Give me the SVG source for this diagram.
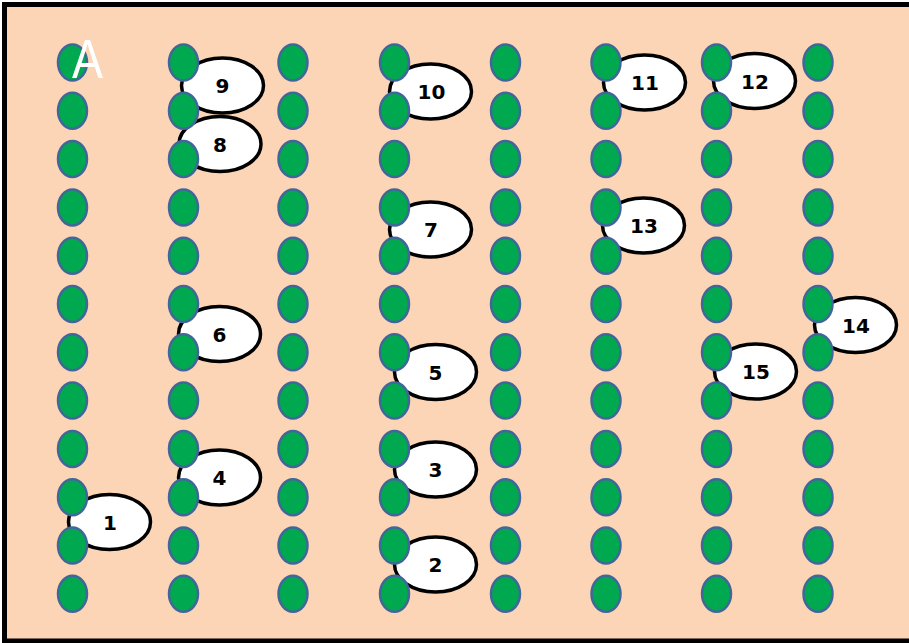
<svg xmlns="http://www.w3.org/2000/svg" width="909" height="643" viewBox="0 0 909 643">
<style>
.dot{fill:#00A850;stroke:#41679A;stroke-width:2.5}
.lab{fill:#FFFFFF;stroke:#000000;stroke-width:3.5}
.num{font-family:"DejaVu Sans",Verdana,sans-serif;font-weight:bold;font-size:20px;fill:#000000;text-anchor:middle}
</style>
<defs>
<ellipse id="d" cx="0" cy="0" rx="14.5" ry="18" class="dot"/>
</defs>
<rect x="0" y="0" width="909" height="643" fill="#FFFFFF"/>
<rect x="4.5" y="4.5" width="912" height="636.5" fill="#FBD5B5" stroke="#000000" stroke-width="5"/>
<g id="labels">
<g id="n9"><ellipse class="lab" cx="222.5" cy="85.5" rx="41" ry="27.5"/><text class="num" x="222.5" y="93">9</text></g>
<g id="n8"><ellipse class="lab" cx="220" cy="144" rx="41" ry="27.5"/><text class="num" x="220" y="151.5">8</text></g>
<g id="n10"><ellipse class="lab" cx="430.5" cy="91.5" rx="41" ry="27.5"/><text class="num" x="431.5" y="99">10</text></g>
<g id="n7"><ellipse class="lab" cx="430.5" cy="229.5" rx="41" ry="27.5"/><text class="num" x="431" y="237">7</text></g>
<g id="n11"><ellipse class="lab" cx="644.5" cy="82.5" rx="41" ry="27.5"/><text class="num" x="645" y="90">11</text></g>
<g id="n12"><ellipse class="lab" cx="754.5" cy="81" rx="41" ry="27.5"/><text class="num" x="755" y="88.5">12</text></g>
<g id="n13"><ellipse class="lab" cx="643.5" cy="225.5" rx="41" ry="27.5"/><text class="num" x="644" y="233">13</text></g>
<g id="n14"><ellipse class="lab" cx="855.5" cy="325" rx="41" ry="27.5"/><text class="num" x="856" y="332.5">14</text></g>
<g id="n15"><ellipse class="lab" cx="755.5" cy="371.5" rx="41" ry="27.5"/><text class="num" x="756" y="379">15</text></g>
<g id="n6"><ellipse class="lab" cx="219.5" cy="334" rx="41" ry="27.5"/><text class="num" x="219.5" y="341.5">6</text></g>
<g id="n5"><ellipse class="lab" cx="435.5" cy="372" rx="41" ry="27.5"/><text class="num" x="435.5" y="379.5">5</text></g>
<g id="n4"><ellipse class="lab" cx="219.5" cy="477.5" rx="41" ry="27.5"/><text class="num" x="219.5" y="485">4</text></g>
<g id="n3"><ellipse class="lab" cx="435.5" cy="469.5" rx="41" ry="27.5"/><text class="num" x="435.5" y="477">3</text></g>
<g id="n2"><ellipse class="lab" cx="435.5" cy="564.5" rx="41" ry="27.5"/><text class="num" x="435.5" y="572">2</text></g>
<g id="n1"><ellipse class="lab" cx="109.5" cy="522" rx="41" ry="27.5"/><text class="num" x="110" y="529.5">1</text></g>
</g>
<g id="dots">
<g id="col1" transform="translate(72.5,0)">
<use href="#d" y="62.5"/><use href="#d" y="110.8"/><use href="#d" y="159.1"/><use href="#d" y="207.4"/><use href="#d" y="255.7"/><use href="#d" y="304"/><use href="#d" y="352.3"/><use href="#d" y="400.6"/><use href="#d" y="448.9"/><use href="#d" y="497.2"/><use href="#d" y="545.5"/><use href="#d" y="593.8"/>
</g>
<g id="col2" transform="translate(183.5,0)">
<use href="#d" y="62.5"/><use href="#d" y="110.8"/><use href="#d" y="159.1"/><use href="#d" y="207.4"/><use href="#d" y="255.7"/><use href="#d" y="304"/><use href="#d" y="352.3"/><use href="#d" y="400.6"/><use href="#d" y="448.9"/><use href="#d" y="497.2"/><use href="#d" y="545.5"/><use href="#d" y="593.8"/>
</g>
<g id="col3" transform="translate(293,0)">
<use href="#d" y="62.5"/><use href="#d" y="110.8"/><use href="#d" y="159.1"/><use href="#d" y="207.4"/><use href="#d" y="255.7"/><use href="#d" y="304"/><use href="#d" y="352.3"/><use href="#d" y="400.6"/><use href="#d" y="448.9"/><use href="#d" y="497.2"/><use href="#d" y="545.5"/><use href="#d" y="593.8"/>
</g>
<g id="col4" transform="translate(394.5,0)">
<use href="#d" y="62.5"/><use href="#d" y="110.8"/><use href="#d" y="159.1"/><use href="#d" y="207.4"/><use href="#d" y="255.7"/><use href="#d" y="304"/><use href="#d" y="352.3"/><use href="#d" y="400.6"/><use href="#d" y="448.9"/><use href="#d" y="497.2"/><use href="#d" y="545.5"/><use href="#d" y="593.8"/>
</g>
<g id="col5" transform="translate(505.5,0)">
<use href="#d" y="62.5"/><use href="#d" y="110.8"/><use href="#d" y="159.1"/><use href="#d" y="207.4"/><use href="#d" y="255.7"/><use href="#d" y="304"/><use href="#d" y="352.3"/><use href="#d" y="400.6"/><use href="#d" y="448.9"/><use href="#d" y="497.2"/><use href="#d" y="545.5"/><use href="#d" y="593.8"/>
</g>
<g id="col6" transform="translate(606,0)">
<use href="#d" y="62.5"/><use href="#d" y="110.8"/><use href="#d" y="159.1"/><use href="#d" y="207.4"/><use href="#d" y="255.7"/><use href="#d" y="304"/><use href="#d" y="352.3"/><use href="#d" y="400.6"/><use href="#d" y="448.9"/><use href="#d" y="497.2"/><use href="#d" y="545.5"/><use href="#d" y="593.8"/>
</g>
<g id="col7" transform="translate(716.5,0)">
<use href="#d" y="62.5"/><use href="#d" y="110.8"/><use href="#d" y="159.1"/><use href="#d" y="207.4"/><use href="#d" y="255.7"/><use href="#d" y="304"/><use href="#d" y="352.3"/><use href="#d" y="400.6"/><use href="#d" y="448.9"/><use href="#d" y="497.2"/><use href="#d" y="545.5"/><use href="#d" y="593.8"/>
</g>
<g id="col8" transform="translate(818,0)">
<use href="#d" y="62.5"/><use href="#d" y="110.8"/><use href="#d" y="159.1"/><use href="#d" y="207.4"/><use href="#d" y="255.7"/><use href="#d" y="304"/><use href="#d" y="352.3"/><use href="#d" y="400.6"/><use href="#d" y="448.9"/><use href="#d" y="497.2"/><use href="#d" y="545.5"/><use href="#d" y="593.8"/>
</g>
</g>
<text id="panel-label" x="72" y="78" font-family="'Liberation Sans',Arial,sans-serif" font-size="56" fill="#FFFFFF" textLength="31" lengthAdjust="spacingAndGlyphs">A</text>
</svg>
